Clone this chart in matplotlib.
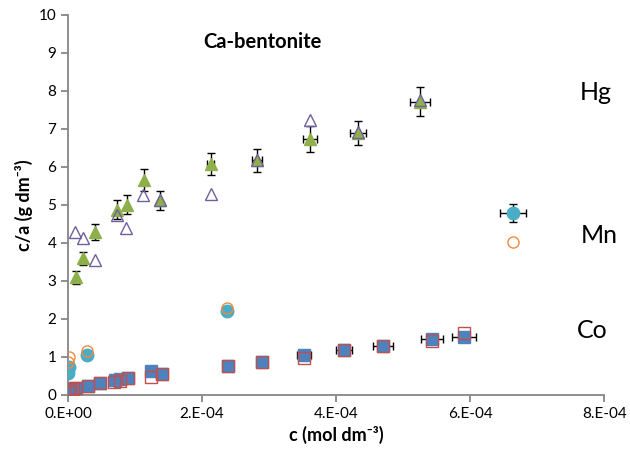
import matplotlib.pyplot as plt
import numpy as np

plt.rcParams['font.family'] = ['Lato', 'DejaVu Sans']

# Hg, filled (with error bars)
hg_x = [0.12e-4, 0.22e-4, 0.40e-4, 0.73e-4, 0.88e-4, 1.13e-4, 1.37e-4, 2.13e-4, 2.82e-4, 3.61e-4, 4.33e-4, 5.25e-4]
hg_y = [3.10, 3.60, 4.29, 4.87, 5.00, 5.66, 5.13, 6.08, 6.18, 6.74, 6.90, 7.72]
hg_yerr = [0.17, 0.17, 0.22, 0.25, 0.25, 0.30, 0.25, 0.30, 0.30, 0.34, 0.32, 0.38]
hg_xerr = [0, 0, 0, 0, 0, 0, 0, 0.05e-4, 0.07e-4, 0.10e-4, 0.12e-4, 0.15e-4]
# Hg, open
hg2_x = [0.10e-4, 0.22e-4, 0.40e-4, 0.73e-4, 0.87e-4, 1.12e-4, 1.37e-4, 2.13e-4, 2.82e-4, 3.61e-4, 4.33e-4, 5.25e-4]
hg2_y = [4.29, 4.13, 3.55, 4.74, 4.40, 5.26, 5.13, 5.30, 6.18, 7.24, 6.92, 7.76]

# Mn, filled
mn_x = [0.0, 0.02e-4, 0.28e-4, 2.37e-4, 6.64e-4]
mn_y = [0.58, 0.74, 1.05, 2.20, 4.79]
mn_yerr = [0, 0, 0, 0, 0.24]
mn_xerr = [0, 0, 0, 0, 0.20e-4]
# Mn, open
mn2_x = [0.0, 0.02e-4, 0.28e-4, 2.37e-4, 6.64e-4]
mn2_y = [0.87, 1.00, 1.16, 2.28, 4.03]

# Co, filled
co_x = [0.02e-4, 0.06e-4, 0.10e-4, 0.30e-4, 0.48e-4, 0.70e-4, 0.78e-4, 0.90e-4, 1.24e-4, 1.40e-4,
        2.39e-4, 2.90e-4, 3.52e-4, 4.12e-4, 4.70e-4, 5.43e-4, 5.91e-4]
co_y = [0.10, 0.15, 0.18, 0.24, 0.32, 0.39, 0.41, 0.44, 0.63, 0.55,
        0.76, 0.87, 1.05, 1.18, 1.29, 1.47, 1.52]
co_xerr = [0, 0, 0, 0, 0, 0, 0, 0, 0, 0, 0, 0.06e-4, 0.10e-4, 0.12e-4, 0.15e-4, 0.17e-4, 0.18e-4]
# Co, open
co2_x = [0.0, 0.03e-4, 0.08e-4, 0.12e-4, 0.30e-4, 0.48e-4, 0.68e-4, 0.78e-4, 0.90e-4, 1.24e-4, 1.40e-4,
         2.39e-4, 2.90e-4, 3.52e-4, 4.12e-4, 4.70e-4, 5.43e-4, 5.91e-4]
co2_y = [0.08, 0.12, 0.17, 0.19, 0.24, 0.32, 0.35, 0.38, 0.44, 0.47, 0.55,
         0.76, 0.87, 0.97, 1.18, 1.29, 1.42, 1.62]

fig = plt.figure(figsize=(6.3, 4.54), dpi=100)
ax = fig.add_axes([0.108, 0.13, 0.851, 0.837])

ax.errorbar(hg_x, hg_y, yerr=hg_yerr, xerr=hg_xerr, fmt='none', ecolor='black',
            elinewidth=1, capsize=3, zorder=2)
ax.plot(hg_x, hg_y, '^', color='#8DB04A', ms=9, mec='#8DB04A', zorder=3)
ax.plot(hg2_x, hg2_y, '^', mfc='none', mec='#7060A0', mew=1, ms=9, zorder=4)

ax.errorbar(mn_x, mn_y, yerr=mn_yerr, xerr=mn_xerr, fmt='none', ecolor='black',
            elinewidth=1, capsize=3, zorder=2)
ax.plot(mn_x, mn_y, 'o', color='#4BACC6', ms=9, zorder=3)
ax.plot(mn2_x, mn2_y, 'o', mfc='none', mec='#F08A3C', mew=1, ms=8, zorder=4)

ax.errorbar(co_x, co_y, xerr=co_xerr, fmt='none', ecolor='black',
            elinewidth=1, capsize=3, zorder=2)
ax.plot(co_x, co_y, 's', color='#4F81BD', ms=8, zorder=3)
ax.plot(co2_x, co2_y, 's', mfc='none', mec='#C0504D', mew=1, ms=8, zorder=4)

ax.text(2.9e-4, 9.3, 'Ca-bentonite', fontsize=14.5, fontweight='bold', ha='center', va='center')
ax.text(7.88e-4, 7.97, 'Hg', fontsize=18, ha='center', va='center')
ax.text(7.92e-4, 4.2, 'Mn', fontsize=18, ha='center', va='center')
ax.text(7.82e-4, 1.7, 'Co', fontsize=18, ha='center', va='center')

ax.set_xlim(0, 8e-4)
ax.set_ylim(0, 10)
ax.set_xticks(np.arange(0, 8.1e-4, 2e-4))
ax.set_xticklabels(['0.E+00', '2.E-04', '4.E-04', '6.E-04', '8.E-04'])
ax.set_yticks(range(0, 11))
ax.tick_params(labelsize=11, color='#868686', length=5, width=1.3)

for s in ['top', 'right']:
    ax.spines[s].set_visible(False)
for s in ['left', 'bottom']:
    ax.spines[s].set_color('#868686')
    ax.spines[s].set_linewidth(1.3)

ax.set_xlabel('c (mol dm⁻³)', fontsize=13, fontweight='bold')
ax.set_ylabel('c/a (g dm⁻³)', fontsize=13, fontweight='bold')

fig.savefig('out.png', dpi=100)
